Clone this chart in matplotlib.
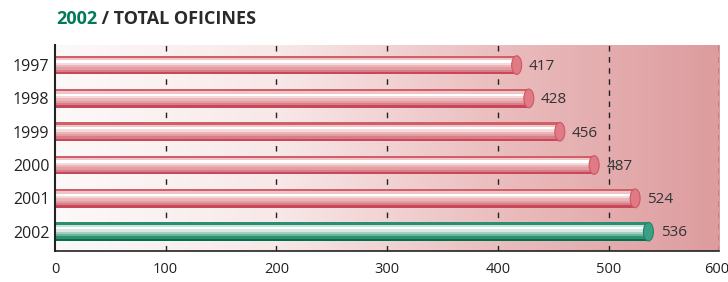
import numpy as np
import matplotlib
matplotlib.use("Agg")
from matplotlib import pyplot as plt
from matplotlib.patches import Ellipse
from matplotlib.colors import LinearSegmentedColormap
from matplotlib.transforms import ScaledTranslation

plt.rcParams['font.family'] = ['Open Sans', 'DejaVu Sans']

years = ["1997", "1998", "1999", "2000", "2001", "2002"]
offices = [417, 428, 456, 487, 524, 536]
xticks = [0, 100, 200, 300, 400, 500, 600]

# cylinder shading bands, top to bottom
red_bands = ["#cf5f69", "#f0c4c6", "#ffffff", "#f5dadb", "#ecb5b8", "#e39ea3", "#d97e87", "#c9475a"]
green_bands = ["#2a8f70", "#c9e3d9", "#ffffff", "#d4e9e0", "#a2d0bd", "#6db29a", "#33906f", "#006f4f"]

fig = plt.figure(figsize=(7.28, 2.82), dpi=100)
ax = fig.add_axes([0.0755, 0.11, 0.9125, 0.73])

# background wash, white on the left, pink on the right
bg = LinearSegmentedColormap.from_list("bg", ["#fdf9f9", "#f8e8e8", "#ebbdbe", "#dd9c9e"])
grad = np.linspace(0, 1, 256).reshape(1, -1)
ax.imshow(grad, cmap=bg, aspect="auto", extent=[0, 1, 0, 1],
          transform=ax.transAxes, zorder=0)

bar_h = 0.56
n = len(red_bands)
band_h = bar_h / n
ypos = np.arange(len(years))

for i, (yr, v) in enumerate(zip(years, offices)):
    bands = green_bands if yr == "2002" else red_bands
    for j, c in enumerate(bands):
        yc = i - bar_h / 2 + band_h * (j + 0.5)
        ax.barh(yc, v, height=band_h * 1.02, color=c, linewidth=0, zorder=3)
    cap = "#3a9f85" if yr == "2002" else "#e07a84"
    edge = "#1f8466" if yr == "2002" else "#cc5865"
    ax.add_patch(Ellipse((v, i), width=9, height=bar_h, facecolor=cap,
                         edgecolor=edge, linewidth=0.8, zorder=4))
    ax.text(v + 11, i + 0.04, str(v), va="center", ha="left",
            fontsize=11, color="#333333", zorder=5)

ax.set_xlim(0, 600)
ax.set_ylim(5.58, -0.6)
ax.set_yticks(ypos)
ax.set_yticklabels(years, fontsize=11.5, color="#222222")
ax.set_xticks(xticks)
ax.set_xticklabels([str(t) for t in xticks], fontsize=10.5, color="#222222")
ax.tick_params(axis="both", length=0)
ax.tick_params(axis="x", pad=8)
ax.tick_params(axis="y", pad=4)

last = ax.get_xticklabels()[-1]
last.set_horizontalalignment("right")
last.set_transform(last.get_transform() + ScaledTranslation(7 / 72, 0, fig.dpi_scale_trans))

for x in xticks[1:]:
    ax.axvline(x, color="#222222", lw=1, ls=(0, (4, 4)), zorder=2)

for s in ["top", "right"]:
    ax.spines[s].set_visible(False)
ax.spines["left"].set_color("#222222")
ax.spines["left"].set_linewidth(1.5)
ax.spines["bottom"].set_color("#222222")
ax.spines["bottom"].set_linewidth(1.2)
ax.spines["left"].set_zorder(6)
ax.spines["bottom"].set_zorder(6)

t1 = fig.text(0.077, 0.915, "2002", fontsize=13, fontweight="bold",
              color="#007a5a", va="baseline")
fig.canvas.draw()
ax.annotate(" / TOTAL OFICINES", xy=(1, 0), xycoords=t1, va="bottom",
            fontsize=13, fontweight="bold", color="#2a2a2a",
            annotation_clip=False)

fig.savefig("out.png", dpi=100)
